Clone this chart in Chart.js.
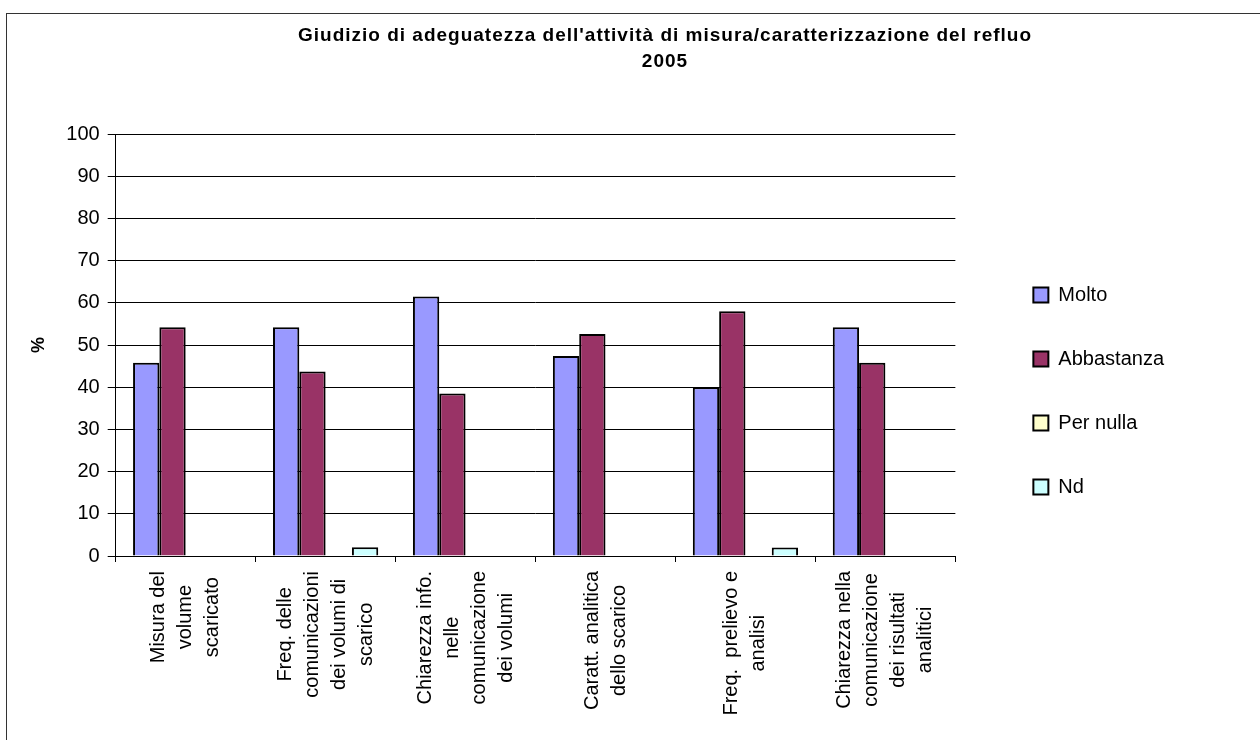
<!DOCTYPE html>
<html>
<head>
<meta charset="utf-8">
<script src="https://cdn.jsdelivr.net/npm/chart.js@4"></script>
<style>
  body { margin: 0; width: 1260px; height: 740px; overflow: hidden; background: #fff; position: relative; }
  #frame { position: absolute; left: 6px; top: 13px; width: 1300px; height: 800px; border: 1px solid #333; }
  #mychart { position: absolute; left: 0; top: 0; }
</style>
</head>
<body>
<div id="frame"></div>
<canvas id="mychart" width="1260" height="740"></canvas>
<script>
const titleLines = ["Giudizio di adeguatezza dell'attività di misura/caratterizzazione del refluo", "2005"];
const categories = [
    ["Misura del", "volume", "scaricato"],
    ["Freq. delle", "comunicazioni", "dei volumi di", "scarico"],
    ["Chiarezza info.", "nelle", "comunicazione", "dei volumi"],
    ["Caratt. analitica", "dello scarico"],
    ["Freq.  prelievo e", "analisi"],
    ["Chiarezza nella", "comunicazione", "dei risultati", "analitici"]
];
const molto = [45.8, 54.2, 61.5, 47.4, 40.0, 54.2];
const abbastanza = [54.2, 43.7, 38.5, 52.6, 58.0, 45.8];
const perNulla = [0, 0, 0, 0, 0, 0];
const nd = [0, 2.1, 0, 0, 2.0, 0];
const yTicks = [0, 10, 20, 30, 40, 50, 60, 70, 80, 90, 100];

const FONT = '"Liberation Sans", Arial, sans-serif';

// title drawn by hand so it can sit a bit right of the frame centre, like the original
const titlePlugin = {
    id: 'excelTitle',
    afterDraw(chart) {
        const ctx = chart.ctx;
        ctx.save();
        ctx.font = 'bold 19px ' + FONT;
        ctx.letterSpacing = '1px';
        ctx.fillStyle = '#000';
        ctx.textAlign = 'center';
        ctx.textBaseline = 'middle';
        titleLines.forEach((t, i) => ctx.fillText(t, 665, 36 + i * 26));
        ctx.restore();
    }
};

// rotated category labels, lines centred on each other, block starts just under the axis
const xLabelPlugin = {
    id: 'xLabels',
    afterDraw(chart) {
        const ctx = chart.ctx;
        const xs = chart.scales.x;
        ctx.save();
        ctx.font = '20px ' + FONT;
        ctx.fillStyle = '#000';
        ctx.textAlign = 'left';
        ctx.textBaseline = 'middle';
        chart.data.labels.forEach((lines, i) => {
            const x = xs.getPixelForValue(i);
            const widths = lines.map(l => ctx.measureText(l).width);
            const maxW = Math.max(...widths);
            ctx.save();
            ctx.translate(x, xs.top + 15);
            ctx.rotate(-Math.PI / 2);
            lines.forEach((l, j) => {
                ctx.fillText(l, -(maxW + widths[j]) / 2, (j - (lines.length - 1) / 2) * 27);
            });
            ctx.restore();
        });
        ctx.restore();
    }
};

const ctx = document.querySelector('#mychart');

new Chart(ctx, {
    type: 'bar',
    data: {
        labels: categories,
        datasets: [
            { label: 'Molto', data: molto, backgroundColor: '#9999FF' },
            { label: 'Abbastanza', data: abbastanza, backgroundColor: '#993366' },
            { label: 'Per nulla', data: perNulla, backgroundColor: '#FFFFCC' },
            { label: 'Nd', data: nd, backgroundColor: '#CCFFFF' }
        ]
    },
    options: {
        responsive: false,
        animation: false,
        layout: { padding: { top: 134, left: 20, right: 86, bottom: 92 } },
        datasets: {
            bar: {
                borderColor: '#000',
                borderWidth: 2,
                categoryPercentage: 0.752,
                barPercentage: 1
            }
        },
        plugins: {
            tooltip: { enabled: false },
            title: { display: false },
            legend: {
                position: 'right',
                labels: {
                    color: '#000',
                    font: { family: FONT, size: 20 },
                    boxWidth: 15,
                    boxHeight: 15,
                    padding: 44
                }
            }
        },
        scales: {
            x: {
                grid: { display: true, offset: true, drawOnChartArea: false, color: '#000', tickLength: 6 },
                border: { color: '#000', width: 1 },
                ticks: { display: false },
                afterFit(s) { s.height = 92; }
            },
            y: {
                min: 0,
                max: 100,
                afterBuildTicks(s) { s.ticks = yTicks.map(v => ({ value: v })); },
                grid: { color: '#000', lineWidth: 1, tickLength: 8 },
                border: { color: '#000', width: 1 },
                ticks: { color: '#000', font: { family: FONT, size: 20 }, padding: 8 },
                title: {
                    display: true,
                    text: '%',
                    color: '#000',
                    font: { family: FONT, size: 18, weight: 'bold' },
                    padding: { top: 8, bottom: 0 }
                },
                afterFit(s) { s.width = 95.7; }
            },
            gap: {
                type: 'linear',
                position: 'right',
                display: true,
                grid: { display: false },
                border: { display: false },
                ticks: { display: false },
                afterFit(s) { s.width = 34; }
            }
        }
    },
    plugins: [titlePlugin, xLabelPlugin]
});
</script>
</body>
</html>
